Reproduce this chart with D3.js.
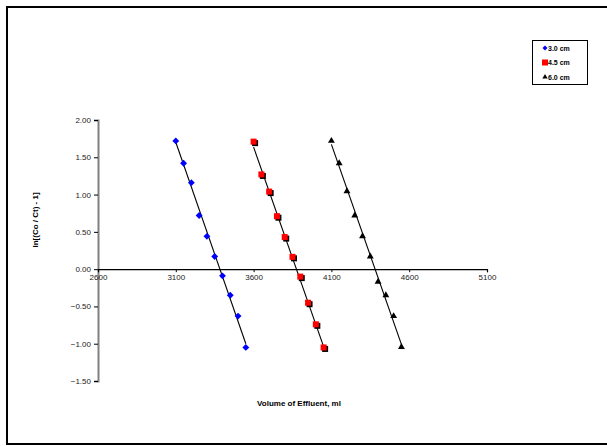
<!DOCTYPE html>
<html><head><meta charset="utf-8">
<script src="https://cdn.jsdelivr.net/npm/d3@7"></script>
<style>body{margin:0;background:#fff}svg{display:block;font-family:"Liberation Sans",Arial,sans-serif}</style>
</head><body><svg id="c" width="607" height="446"></svg>
<script>
const xTicks = [2600, 3100, 3600, 4100, 4600, 5100];
const yTicks = [2.0, 1.5, 1.0, 0.5, 0.0, -0.5, -1.0, -1.5];
const seriesNames = ["3.0 cm", "4.5 cm", "6.0 cm"];
const x30 = [3100, 3150, 3200, 3250, 3300, 3350, 3400, 3450, 3500, 3550];
const y30 = [1.72, 1.42, 1.16, 0.72, 0.44, 0.17, -0.09, -0.35, -0.63, -1.05];
const x45 = [3600, 3650, 3700, 3750, 3800, 3850, 3900, 3950, 4000, 4050];
const y45 = [1.71, 1.27, 1.04, 0.71, 0.43, 0.165, -0.10, -0.45, -0.74, -1.05];
const x60 = [4100, 4150, 4200, 4250, 4300, 4350, 4400, 4450, 4500, 4550];
const y60 = [1.72, 1.42, 1.045, 0.72, 0.44, 0.17, -0.17, -0.35, -0.63, -1.045];

const svg = d3.select("#c");
const x = d3.scaleLinear().domain([2600, 5100]).range([98, 487]);
const y = d3.scaleLinear().domain([-1.5, 2.0]).range([381, 120]);

// outer frame
svg.append("rect").attr("x", 7).attr("y", 7).attr("width", 610).attr("height", 437)
  .attr("fill", "none").attr("stroke", "#000").attr("stroke-width", 2);

// y axis
const yAx = svg.append("g").attr("transform", `translate(${x(2600)},0)`)
  .call(d3.axisLeft(y).tickValues(yTicks).tickFormat(d3.format(".2f")).tickSize(4).tickPadding(3));
yAx.select(".domain").attr("stroke", "#808080").attr("stroke-width", 2);
yAx.selectAll(".tick line").attr("stroke", "#000");
yAx.selectAll("text").attr("font-size", 8).attr("fill", "#222").attr("font-family", "Liberation Sans, Arial, sans-serif");

// x axis at y=0
const xAx = svg.append("g").attr("transform", `translate(0,${y(0)})`)
  .call(d3.axisBottom(x).tickValues(xTicks).tickFormat(d3.format("d")).tickSize(3).tickPadding(2));
xAx.select(".domain").attr("stroke", "#000").attr("stroke-width", 1.2);
xAx.selectAll(".tick line").attr("stroke", "#000");
xAx.selectAll("text").attr("font-size", 8).attr("fill", "#222").attr("font-family", "Liberation Sans, Arial, sans-serif");

// titles
svg.append("text").attr("x", 299).attr("y", 406).attr("text-anchor", "middle")
  .attr("font-size", 8).attr("font-weight", "bold").text("Volume of Effluent, ml");
svg.append("text").attr("transform", "translate(38,220) rotate(-90)").attr("text-anchor", "middle")
  .attr("font-size", 8).attr("font-weight", "bold").text("ln[(Co / Ct) - 1]");

// trend lines (least squares from data)
function fit(xs, ys) {
  const mx = d3.mean(xs), my = d3.mean(ys);
  let sxy = 0, sxx = 0;
  xs.forEach((v, i) => { sxy += (v - mx) * (ys[i] - my); sxx += (v - mx) * (v - mx); });
  const b = sxy / sxx, a = my - b * mx;
  const x0 = d3.min(xs), x1 = d3.max(xs);
  return [[x0, a + b * x0], [x1, a + b * x1]];
}
const data = [[x30, y30], [x45, y45], [x60, y60]];
const line = d3.line().x(d => x(d[0])).y(d => y(d[1]));
data.forEach(([xs, ys]) => {
  svg.append("path").attr("d", line(fit(xs, ys))).attr("stroke", "#000").attr("stroke-width", 1.1).attr("fill", "none");
});

// markers
const diamond = d3.symbol().type(d3.symbolDiamond2).size(26);
const tri = d3.symbol().type(d3.symbolTriangle2).size(30);
function drawDiamond(g, cx, cy, s) {
  g.append("path").attr("d", d3.symbol().type(d3.symbolDiamond2).size(s)()).attr("transform", `translate(${cx},${cy})`).attr("fill", "#0000ff");
}
function drawSquare(g, cx, cy, w) {
  g.append("rect").attr("x", cx - w / 2 + 1.5).attr("y", cy - w / 2 + 1.5).attr("width", w).attr("height", w).attr("fill", "#000");
  g.append("rect").attr("x", cx - w / 2).attr("y", cy - w / 2).attr("width", w).attr("height", w).attr("fill", "#ff0000");
}
function drawTri(g, cx, cy, s) {
  g.append("path").attr("d", d3.symbol().type(d3.symbolTriangle2).size(s)()).attr("transform", `translate(${cx},${cy})`).attr("fill", "#000");
}
const pts = svg.append("g");
x30.forEach((v, i) => drawDiamond(pts, x(v), y(y30[i]), 30));
x45.forEach((v, i) => drawSquare(pts, x(v), y(y45[i]), 6));
x60.forEach((v, i) => drawTri(pts, x(v), y(y60[i]), 34));

// legend
const lg = svg.append("g");
lg.append("rect").attr("x", 532.5).attr("y", 40.5).attr("width", 55).attr("height", 44)
  .attr("fill", "#fff").attr("stroke", "#000").attr("stroke-width", 1);
const ly = [48, 62.5, 77];
drawDiamond(lg, 545, ly[0], 16);
lg.append("rect").attr("x", 542).attr("y", ly[1] - 3).attr("width", 6).attr("height", 6).attr("fill", "#ff0000");
drawTri(lg, 545, ly[2], 20);
seriesNames.forEach((n, i) => {
  lg.append("text").attr("x", 548).attr("y", ly[i] + 2.7).attr("font-size", 7).attr("font-weight", "bold").text(n);
});
</script></body></html>
